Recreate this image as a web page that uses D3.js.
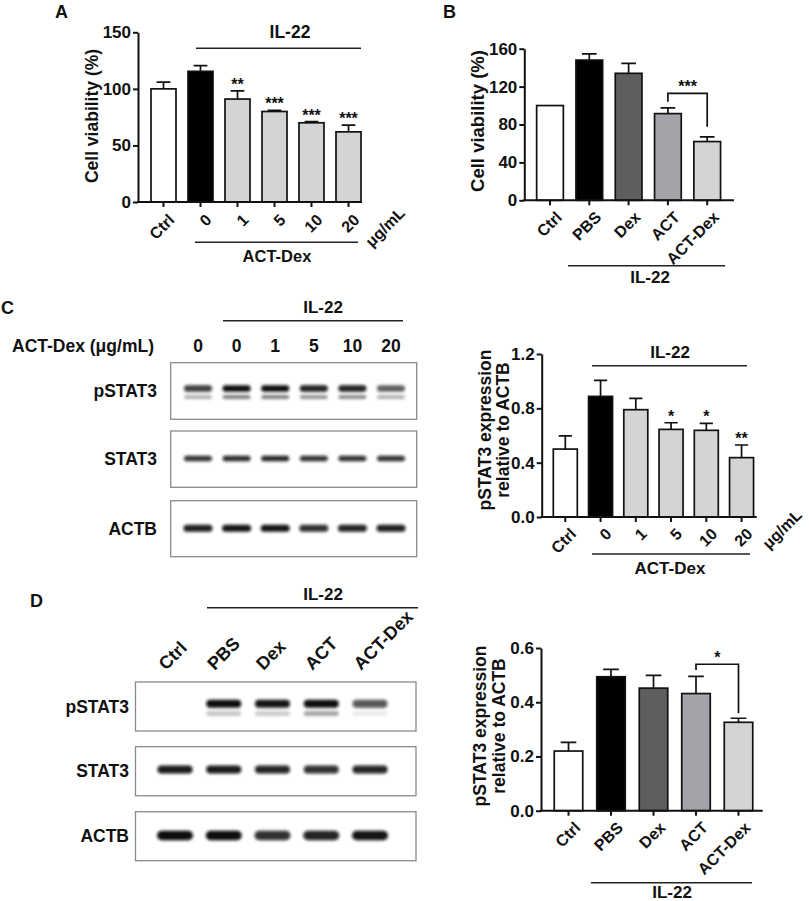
<!DOCTYPE html>
<html><head><meta charset="utf-8">
<script src="https://cdn.jsdelivr.net/npm/d3@7"></script>
<style>
body{margin:0;background:#fff}
text{font-family:"Liberation Sans",Arial,Helvetica,sans-serif;font-weight:bold;fill:#111}
</style>
</head><body>
<svg id="fig" width="809" height="901" xmlns="http://www.w3.org/2000/svg"></svg>
<script>
// ---------------- DATA ----------------
// Panel A: cell viability vs ACT-Dex dose
const aCategories = ["Ctrl", "0", "1", "5", "10", "20"];
const aValues = [100, 115.5, 91, 80, 70, 62];
const aErrors = [6, 5, 7.2, 1, 1, 6];
const aStars = ["", "", "**", "***", "***", "***"];
const aTicks = [0, 50, 100, 150];

// Panel B: cell viability by treatment
const bCategories = ["Ctrl", "PBS", "Dex", "ACT", "ACT-Dex"];
const bValues = [100, 148, 134, 91.5, 62];
const bErrors = [0, 6.5, 10.5, 6, 5];
const bTicks = [0, 40, 80, 120, 160];
const bBracketPair = ["ACT", "ACT-Dex"];
const bBracketLevels = [112.9, 104, 77.6]; // top, left leg end, right leg end
const bBracketLabel = "***";

// Panel C chart: pSTAT3 relative to ACTB vs dose
const cCategories = ["Ctrl", "0", "1", "5", "10", "20"];
const cValues = [0.50, 0.888, 0.79, 0.645, 0.638, 0.437];
const cErrors = [0.097, 0.118, 0.084, 0.049, 0.052, 0.093];
const cStars = ["", "", "", "*", "*", "**"];
const cTicks = [0, 0.4, 0.8, 1.2];

// Panel D chart: pSTAT3 relative to ACTB by treatment
const dCategories = ["Ctrl", "PBS", "Dex", "ACT", "ACT-Dex"];
const dValues = [0.22, 0.494, 0.452, 0.432, 0.326];
const dErrors = [0.032, 0.027, 0.047, 0.063, 0.015];
const dTicks = [0, 0.2, 0.4, 0.6];
const dBracketPair = ["ACT", "ACT-Dex"];
const dBracketLevels = [0.54, 0.519, 0.359];
const dBracketLabel = "*";

// Western blot lanes and band intensities (0..1)
const cLanes = ["0", "0", "1", "5", "10", "20"];
const cPstat3Upper = [0.8, 1, 1, 0.92, 0.92, 0.62];
const cPstat3Lower = [0.3, 0.5, 0.5, 0.42, 0.45, 0.3];
const cStat3 = [0.85, 0.88, 0.9, 0.85, 0.85, 0.85];
const cActb = [0.92, 0.97, 0.97, 0.85, 0.9, 0.92];

const dLanes = ["Ctrl", "PBS", "Dex", "ACT", "ACT-Dex"];
const dPstat3Upper = [0, 1, 0.97, 1, 0.7];
const dPstat3Lower = [0, 0.22, 0.2, 0.35, 0.08];
const dStat3 = [0.95, 0.95, 0.9, 0.85, 0.9];
const dActb = [1, 1, 0.85, 0.9, 0.97];

// ---------------- STYLE / LAYOUT ----------------
const FILL = {
  white: "#ffffff", black: "#000000", dark: "#5e5e5e", mid: "#a3a3a9", light: "#d4d4d4"
};
const aFillKeys = ["white", "black", "light", "light", "light", "light"];
const bFillKeys = ["white", "black", "dark", "mid", "light"];
const cFillKeys = aFillKeys;
const dFillKeys = bFillKeys;

const svg = d3.select("#fig");
const defs = svg.append("defs");
defs.append("filter").attr("id", "blur").attr("x", "-30%").attr("y", "-100%").attr("width", "160%").attr("height", "300%")
  .append("feGaussianBlur").attr("stdDeviation", 1.5);

function barChart(cfg) {
  const g = svg.append("g");
  const n = cfg.cats.length;
  const pad = 1 - cfg.bw / cfg.step;
  const x = d3.scaleBand().domain(cfg.cats)
    .range([cfg.c0 - cfg.step / 2, cfg.c0 + cfg.step * (n - 0.5)])
    .paddingInner(pad).paddingOuter(pad / 2);
  const y = d3.scaleLinear().domain([0, cfg.ymax]).range([cfg.y0, cfg.yTop]);
  const cx = c => x(c) + x.bandwidth() / 2;
  const rows = cfg.cats.map((c, i) => ({c, v: cfg.values[i], e: cfg.errors[i], s: cfg.stars ? cfg.stars[i] : "", f: FILL[cfg.fills[i]]}));

  // error bars (upper only)
  const capW = x.bandwidth() * 0.55;
  rows.filter(r => r.e > 0).forEach(r => {
    g.append("path")
      .attr("d", `M${cx(r.c)},${y(r.v)}V${y(r.v + r.e)}M${cx(r.c) - capW / 2},${y(r.v + r.e)}H${cx(r.c) + capW / 2}`)
      .attr("stroke", "#111").attr("stroke-width", 1.7).attr("fill", "none");
  });
  // bars
  g.selectAll("rect.bar").data(rows).enter().append("rect")
    .attr("x", r => x(r.c)).attr("y", r => y(r.v))
    .attr("width", x.bandwidth()).attr("height", r => y(0) - y(r.v))
    .attr("fill", r => r.f).attr("stroke", "#111").attr("stroke-width", 1.7);
  // stars
  g.selectAll("text.star").data(rows.filter(r => r.s)).enter().append("text")
    .attr("x", r => cx(r.c)).attr("y", r => y(r.v + r.e) - 1)
    .attr("text-anchor", "middle").style("font-size", "16px").text(r => r.s);

  // y axis
  const ya = g.append("g").attr("transform", `translate(${cfg.xAxis},0)`)
    .call(d3.axisLeft(y).tickValues(cfg.ticks).tickSize(5).tickPadding(2).tickSizeOuter(0).tickFormat(cfg.fmt));
  ya.attr("font-family", null);
  ya.select(".domain").attr("stroke", "#111").attr("stroke-width", 2);
  ya.selectAll(".tick line").attr("stroke", "#111").attr("stroke-width", 2);
  ya.selectAll(".tick text").style("font-size", "17px").attr("fill", "#111");

  // x axis
  const xa = g.append("g").attr("transform", `translate(0,${cfg.y0})`)
    .call(d3.axisBottom(x).tickSize(5).tickSizeOuter(0));
  xa.select(".domain").remove();
  xa.attr("font-family", null);
  xa.selectAll(".tick line").attr("stroke", "#111").attr("stroke-width", 2);
  xa.selectAll(".tick text").style("font-size", "16px").attr("fill", "#111")
    .attr("text-anchor", "end").attr("y", 0).attr("dy", "0.35em")
    .attr("transform", `translate(${cfg.lblDx},${cfg.lblDy}) rotate(-45)`);
  g.append("line").attr("x1", cfg.xAxis - 1).attr("x2", cfg.xEnd).attr("y1", cfg.y0).attr("y2", cfg.y0)
    .attr("stroke", "#111").attr("stroke-width", 2);

  // bracket
  if (cfg.bracket) {
    const [a, b] = cfg.bracket;
    const [top, l, r] = cfg.bracketLevels;
    g.append("path").attr("d", `M${cx(a)},${y(l)}V${y(top)}H${cx(b)}V${y(r)}`)
      .attr("fill", "none").attr("stroke", "#111").attr("stroke-width", 1.7);
    g.append("text").attr("x", (cx(a) + cx(b)) / 2).attr("y", y(top) - 1)
      .attr("text-anchor", "middle").style("font-size", "16px").text(cfg.bracketLabel);
  }

  // y title
  const t = g.append("text").attr("transform", `translate(${cfg.titleX},${cfg.titleY}) rotate(-90)`)
    .attr("text-anchor", "middle").style("font-size", cfg.titleSize + "px");
  cfg.title.forEach((line, i) => {
    t.append("tspan").attr("x", 0).attr("dy", i === 0 ? (cfg.title.length === 1 ? "0.35em" : "-0.2em") : "1.08em").text(line);
  });
  return {x, y, g};
}

function hline(x1, x2, yy, w) {
  svg.append("line").attr("x1", x1).attr("x2", x2).attr("y1", yy).attr("y2", yy)
    .attr("stroke", "#222").attr("stroke-width", w || 1.5);
}
function label(txt, xx, yy, size, anchor, rot) {
  const t = svg.append("text").attr("text-anchor", anchor || "middle").style("font-size", size + "px").text(txt);
  if (rot) t.attr("transform", `translate(${xx},${yy}) rotate(${rot})`);
  else t.attr("x", xx).attr("y", yy);
  return t;
}

// ---------------- PANEL A ----------------
label("A", 55, 18, 18, "start");
barChart({
  cats: aCategories, values: aValues, errors: aErrors, stars: aStars, fills: aFillKeys,
  ticks: aTicks, ymax: 150, fmt: d3.format("d"),
  xAxis: 138, xEnd: 362, y0: 202, yTop: 32.3, c0: 163.5, step: 37, bw: 25,
  lblDx: 8, lblDy: 15,
  title: ["Cell viability (%)"], titleX: 92, titleY: 116, titleSize: 17.5
});
label("IL-22", 290, 38, 17.5);
hline(196, 361, 48.3);
label("μg/mL", 402, 210, 16, "end", -45).attr("dy", "0.35em");
hline(195, 358, 242.3);
label("ACT-Dex", 277, 262, 16.5);

// ---------------- PANEL B ----------------
label("B", 443, 18, 18, "start");
barChart({
  cats: bCategories, values: bValues, errors: bErrors, fills: bFillKeys,
  ticks: bTicks, ymax: 160, fmt: d3.format("d"),
  xAxis: 524.3, xEnd: 734, y0: 200.3, yTop: 48.7, c0: 550, step: 39.3, bw: 26.7,
  lblDx: 9, lblDy: 14,
  bracket: bBracketPair, bracketLevels: bBracketLevels, bracketLabel: bBracketLabel,
  title: ["Cell viability (%)"], titleX: 478, titleY: 121, titleSize: 18.5
});
hline(568, 725, 265.7);
label("IL-22", 650, 283, 17);

// ---------------- PANEL C chart ----------------
barChart({
  cats: cCategories, values: cValues, errors: cErrors, stars: cStars, fills: cFillKeys,
  ticks: cTicks, ymax: 1.2, fmt: d3.format(".1f"),
  xAxis: 541.7, xEnd: 756.7, y0: 517, yTop: 354, c0: 565.3, step: 35.25, bw: 24,
  lblDx: 8, lblDy: 14,
  title: ["pSTAT3 expression", "relative to ACTB"], titleX: 494, titleY: 430, titleSize: 17.5
});
label("IL-22", 670, 358, 17);
hline(592, 747, 365.7);
label("μg/mL", 799, 512, 16, "end", -45).attr("dy", "0.35em");
hline(592, 750, 554);
label("ACT-Dex", 670, 574, 17);

// ---------------- PANEL D chart ----------------
barChart({
  cats: dCategories, values: dValues, errors: dErrors, fills: dFillKeys,
  ticks: dTicks, ymax: 0.6, fmt: d3.format(".1f"),
  xAxis: 541, xEnd: 762.7, y0: 810.7, yTop: 648, c0: 568.5, step: 42.5, bw: 28.5,
  lblDx: 9, lblDy: 14,
  bracket: dBracketPair, bracketLevels: dBracketLevels, bracketLabel: dBracketLabel,
  title: ["pSTAT3 expression", "relative to ACTB"], titleX: 489.5, titleY: 726, titleSize: 17.5
});
hline(591, 752, 882.7);
label("IL-22", 672, 898, 17);

// ---------------- BLOTS ----------------
function blot(cfg) {
  const lx = d3.scalePoint().domain(d3.range(cfg.lanes.length)).range(cfg.laneRange);
  cfg.rows.forEach(row => {
    svg.append("rect").attr("x", cfg.boxX).attr("y", row.top).attr("width", cfg.boxW).attr("height", row.h)
      .attr("fill", "#fff").attr("stroke", "#8a8a8a").attr("stroke-width", 1.3);
    row.bands.forEach(b => {
      svg.append("g").attr("filter", "url(#blur)").selectAll("rect").data(b.vals.map((v, i) => ({v, i})).filter(d => d.v > 0))
        .enter().append("rect")
        .attr("x", d => lx(d.i) - b.w / 2).attr("y", b.yc - b.h / 2)
        .attr("width", b.w).attr("height", b.h).attr("rx", b.h / 2)
        .attr("fill", "#0a0a0a").attr("fill-opacity", d => d.v);
    });
    label(row.name, cfg.nameX, row.top + row.h / 2, 17.5, "end").attr("dy", "0.35em");
  });
  return lx;
}

// Panel C blots
label("C", 1, 314, 18, "start");
const cLx = blot({
  lanes: cLanes, laneRange: [198, 391], boxX: 170.7, boxW: 246,
  nameX: 157,
  rows: [
    {name: "pSTAT3", top: 362.7, h: 56.6, bands: [
      {vals: cPstat3Upper, yc: 388.5, h: 6.5, w: 28},
      {vals: cPstat3Lower, yc: 397, h: 4, w: 28}]},
    {name: "STAT3", top: 431, h: 56.3, bands: [{vals: cStat3, yc: 458.5, h: 5.5, w: 28}]},
    {name: "ACTB", top: 500.7, h: 56, bands: [{vals: cActb, yc: 528.3, h: 7, w: 29}]}
  ]
});
label("ACT-Dex (μg/mL)", 12, 352, 17.5, "start");
cLanes.forEach((l, i) => label(l, cLx(i), 352, 17.5));
hline(223, 403, 320.7);
label("IL-22", 323, 313, 17);

// Panel D blots
label("D", 30, 607, 18, "start");
const dLx = blot({
  lanes: dLanes, laneRange: [175, 370], boxX: 135.5, boxW: 280.5,
  nameX: 129,
  rows: [
    {name: "pSTAT3", top: 682, h: 49, bands: [
      {vals: dPstat3Upper, yc: 703.8, h: 8, w: 35},
      {vals: dPstat3Lower, yc: 713.5, h: 5, w: 35}]},
    {name: "STAT3", top: 746.7, h: 49, bands: [{vals: dStat3, yc: 769.5, h: 8, w: 35}]},
    {name: "ACTB", top: 811.7, h: 49, bands: [{vals: dActb, yc: 835.5, h: 9.5, w: 36}]}
  ]
});
dLanes.forEach((l, i) => label(l, dLx(i) - 9, 671, 18, "start", -45));
hline(207, 418, 607.7);
label("IL-22", 323, 600, 17);
</script>
</body></html>
